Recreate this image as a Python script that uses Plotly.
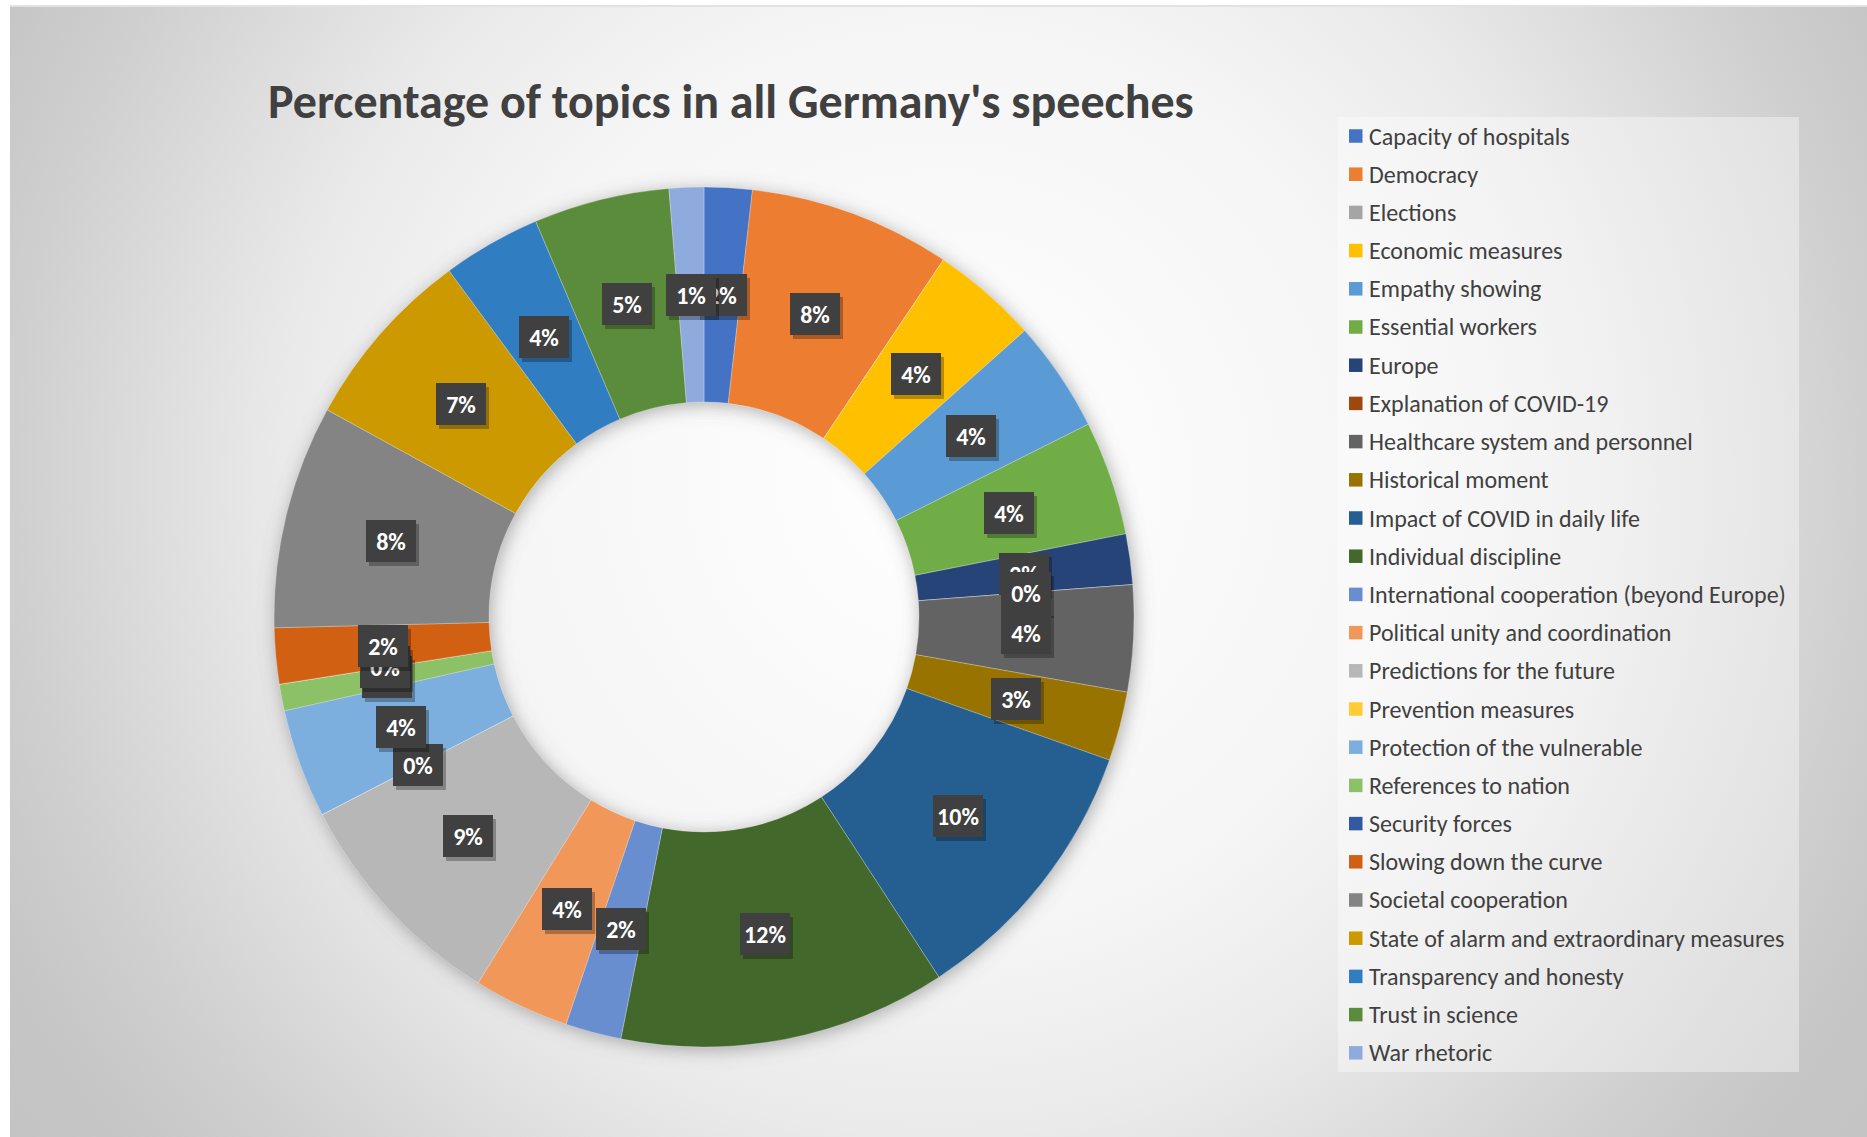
import base64
import math
import plotly.graph_objects as go

# ---- data -------------------------------------------------------------
topics = [
    "Capacity of hospitals", "Democracy", "Elections", "Economic measures",
    "Empathy showing", "Essential workers", "Europe", "Explanation of COVID-19",
    "Healthcare system and personnel", "Historical moment",
    "Impact of COVID in daily life", "Individual discipline",
    "International cooperation (beyond Europe)", "Political unity and coordination",
    "Predictions for the future", "Prevention measures",
    "Protection of the vulnerable", "References to nation", "Security forces",
    "Slowing down the curve", "Societal cooperation",
    "State of alarm and extraordinary measures", "Transparency and honesty",
    "Trust in science", "War rhetoric",
]
# share of speech content per topic (%); None = topic not coded
shares = [
    1.8, 7.6, None, 4.0,
    4.2, 4.3, 1.9, 0.0,
    4.0, 2.6,
    10.4, 12.3,
    2.1, 3.6,
    8.6, 0.0,
    4.1, 1.0, 0.0,
    2.1, 8.4,
    6.9, 3.7,
    5.1, 1.3,
]
colors = [
    "#4472C4", "#ED7D31", "#A5A5A5", "#FFC000",
    "#5B9BD5", "#70AD47", "#264478", "#9E480E",
    "#636363", "#997300", "#255E91", "#43682B",
    "#698ED0", "#F1975A", "#B7B7B7", "#FFCD33",
    "#7CAFDD", "#8CC168", "#335AA1", "#D26012",
    "#848484", "#CC9A00", "#317DC2", "#5B8C3C",
    "#8FAADC",
]
title_text = "Percentage of topics in all Germany's speeches"

# ---- geometry ---------------------------------------------------------
W, H = 1867, 1137
CX, CY, R = 704, 617, 430          # doughnut centre / outer radius (px)
HOLE = 0.5
FONT = "Carlito, Lato, 'Open Sans', sans-serif"
TXT = "#404040"


def px(x):
    return x / W


def py(y):
    return 1 - y / H


values = [0 if v is None else v for v in shares]
total = sum(values)

# ---- background: radial gradient panel, doughnut shadow, legend panel --
svg = f"""<svg xmlns='http://www.w3.org/2000/svg' width='{W}' height='{H}' viewBox='0 0 {W} {H}'>
<defs>
<radialGradient id='bg' gradientUnits='userSpaceOnUse' cx='940' cy='480' r='1130'>
<stop offset='0' stop-color='#FFFFFF'/>
<stop offset='0.41' stop-color='#F5F5F5'/>
<stop offset='0.58' stop-color='#EAEAEA'/>
<stop offset='0.82' stop-color='#CFCFCF'/>
<stop offset='0.92' stop-color='#C6C6C6'/>
<stop offset='1' stop-color='#C4C4C4'/>
</radialGradient>
<filter id='soft' x='-30%' y='-30%' width='160%' height='160%'>
<feGaussianBlur stdDeviation='9'/>
</filter>
</defs>
<rect x='0' y='0' width='{W}' height='{H}' fill='#FFFFFF'/>
<rect x='10' y='7' width='{W - 10}' height='{H - 7}' fill='url(#bg)'/>
<line x1='10' y1='6' x2='{W}' y2='6' stroke='#D9D9D9' stroke-width='1.5'/>
<circle cx='{CX + 2}' cy='{CY + 3}' r='{R * (1 + HOLE) / 2}' fill='none'
 stroke='#6E6E6E' stroke-opacity='0.55' stroke-width='{R * (1 - HOLE)}' filter='url(#soft)'/>
<rect x='1338' y='117' width='461' height='955' fill='#FFFFFF' fill-opacity='0.38'/>
</svg>"""
svg_uri = "data:image/svg+xml;base64," + base64.b64encode(svg.encode()).decode()

fig = go.Figure(
    go.Pie(
        labels=topics,
        values=values,
        hole=HOLE,
        sort=False,
        direction="clockwise",
        rotation=0,
        marker=dict(colors=colors, line=dict(color="rgba(255,255,255,0.45)", width=0.6)),
        textinfo="none",
        hovertemplate="%{label}: %{percent}<extra></extra>",
        domain=dict(x=[px(CX - R), px(CX + R)], y=[py(CY + R), py(CY - R)]),
        showlegend=False,
    )
)

annotations = []
shapes = []

# title
annotations.append(dict(
    text=f"<b>{title_text}</b>", x=px(731), y=py(101), xref="paper", yref="paper",
    showarrow=False, xanchor="center", yanchor="middle",
    font=dict(family=FONT, size=48, color=TXT),
))

# data labels: dark boxes at mid-ring on each slice's mid angle
r_mid = R * (1 + HOLE) / 2
cum = 0.0
for name, v in zip(topics, shares):
    val = 0 if v is None else v
    mid = (cum + val / 2) / total * 2 * math.pi
    cum += val
    if v is None:
        continue
    lx = CX + r_mid * math.sin(mid)
    ly = CY - r_mid * math.cos(mid)
    pct = int(v / total * 100 + 0.5)
    # drop shadow
    annotations.append(dict(
        text="", x=px(lx), y=py(ly), xref="paper", yref="paper", showarrow=False,
        xanchor="center", yanchor="middle",
        xshift=3, yshift=-4, width=50, height=42, borderpad=0, borderwidth=0,
        bgcolor="rgba(0,0,0,0.28)",
    ))
    annotations.append(dict(
        text=f"<b>{pct}%</b>", x=px(lx), y=py(ly), xref="paper", yref="paper",
        showarrow=False, xanchor="center", yanchor="middle",
        width=50, height=42, borderpad=0, borderwidth=0,
        bgcolor="#404040", align="center", valign="middle",
        font=dict(family=FONT, size=24, color="#FFFFFF"),
    ))

# legend
LEG_X, LEG_Y0, LEG_DY, SW = 1349, 136, 38.2, 13.5
for i, (name, c) in enumerate(zip(topics, colors)):
    yc = LEG_Y0 + i * LEG_DY
    shapes.append(dict(
        type="rect", xref="paper", yref="paper",
        x0=px(LEG_X), x1=px(LEG_X + SW), y0=py(yc + SW / 2), y1=py(yc - SW / 2),
        fillcolor=c, line=dict(width=0),
    ))
    annotations.append(dict(
        text=name, x=px(LEG_X + SW + 4), y=py(yc), xref="paper", yref="paper",
        showarrow=False, xanchor="left", yanchor="middle",
        font=dict(family=FONT, size=24, color=TXT),
    ))

fig.update_layout(
    width=W, height=H,
    margin=dict(l=0, r=0, t=0, b=0),
    paper_bgcolor="#FFFFFF",
    images=[dict(source=svg_uri, xref="paper", yref="paper", x=0, y=1,
                 sizex=1, sizey=1, xanchor="left", yanchor="top",
                 sizing="stretch", layer="below")],
    annotations=annotations,
    shapes=shapes,
)

fig.write_html("out.html")
